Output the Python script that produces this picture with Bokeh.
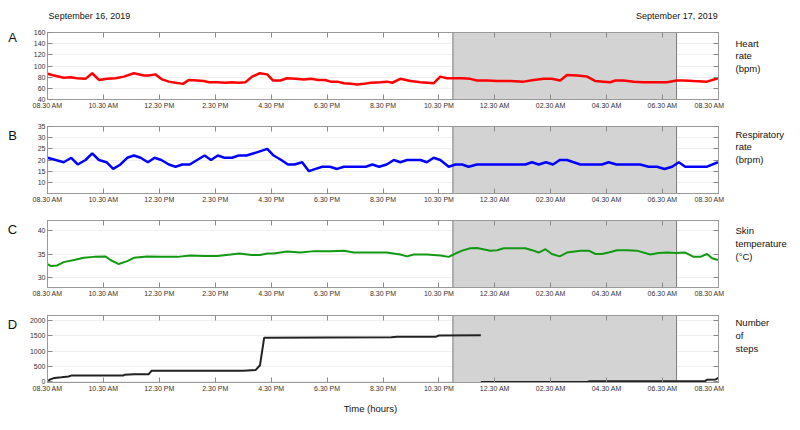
from bokeh.plotting import figure
from bokeh.models import Range1d, LinearAxis, FixedTicker, BoxAnnotation, Span
from bokeh.layouts import column, row
from bokeh.core.properties import value
from bokeh.embed import file_html
from bokeh.resources import INLINE

FONT = "Liberation Sans"

# ---- axis / annotation text ----
xtick_hours = [0, 2, 4, 6, 8, 10, 12, 14, 16, 18, 20, 22, 24]
xtick_labels = ["08.30 AM", "10.30 AM", "12.30 PM", "2.30 PM", "4.30 PM", "6.30 PM",
                "8.30 PM", "10.30 PM", "12.30 AM", "02.30 AM", "04.30 AM", "06.30 AM", "08.30 AM"]
night_start_h = 14.5   # 11:00 PM (hours after 08:30 AM)
night_end_h = 22.5     # 07:00 AM
date_texts = ["September 16, 2019", "September 17, 2019"]
time_axis_title = "Time (hours)"
panel_letters = ["A", "B", "C", "D"]
side_labels = ["Heart\nrate\n(bpm)", "Respiratory\nrate\n(brpm)",
               "Skin\ntemperature\n(\u00b0C)", "Number\nof\nsteps"]

# ---- A: heart rate (bpm) ----
hr_h = [0.0, 0.23, 0.58, 0.82, 1.06, 1.36, 1.6, 1.84, 2.13, 2.43, 2.73, 3.09, 3.45, 3.62, 3.86,
        4.1, 4.34, 4.58, 4.85, 5.05, 5.35, 5.59, 5.77, 6.07, 6.37, 6.6, 6.84, 7.08, 7.32, 7.59,
        7.86, 8.07, 8.33, 8.57, 8.87, 9.17, 9.41, 9.7, 9.94, 10.12, 10.36, 10.6, 10.84, 11.08,
        11.31, 11.55, 11.91, 12.15, 12.33, 12.62, 12.98, 13.34, 13.81, 14.05, 14.29, 14.49,
        14.83, 15.12, 15.36, 15.72, 16.08, 16.55, 17.03, 17.39, 17.75, 18.04, 18.34, 18.58,
        18.94, 19.3, 19.6, 19.89, 20.13, 20.31, 20.61, 20.97, 21.32, 21.8, 22.16, 22.51,
        22.75, 23.11, 23.59, 23.98]
hr_v = [86, 83, 79, 80, 78, 77, 87, 75, 77, 78, 81, 87, 83, 83, 85,
        76, 72, 70, 68, 75, 74, 73, 71, 71, 70, 71, 70, 71, 81, 87,
        85, 74, 74, 78, 77, 76, 77, 75, 75, 72, 72, 69, 68, 67,
        68, 70, 71, 72, 70, 77, 73, 71, 69, 81, 78, 78,
        78, 77, 74, 74, 73, 73, 72, 75, 77, 77, 74, 84,
        83, 81, 73, 72, 71, 74, 74, 72, 71, 71, 71, 74,
        74, 73, 72, 78]

# ---- B: respiratory rate (brpm) ----
rr_h = [0.0, 0.29, 0.58, 0.85, 1.08, 1.36, 1.6, 1.84, 2.11, 2.35, 2.61, 2.85, 3.09, 3.33,
        3.59, 3.83, 4.07, 4.34, 4.58, 4.82, 5.09, 5.35, 5.62, 5.85, 6.09, 6.33, 6.6, 6.84,
        7.12, 7.38, 7.62, 7.86, 8.09, 8.36, 8.6, 8.83, 9.11, 9.35, 9.59, 9.83, 10.1, 10.36,
        10.6, 10.84, 11.1, 11.38, 11.62, 11.86, 12.13, 12.39, 12.62, 12.86, 13.34, 13.57,
        13.81, 14.05, 14.35, 14.59, 14.83, 15.06, 15.36, 15.72, 16.2, 16.67, 17.09, 17.33,
        17.57, 17.83, 18.08, 18.32, 18.58, 18.82, 19.06, 19.42, 19.83, 20.07, 20.35, 20.73,
        21.2, 21.5, 21.8, 22.07, 22.34, 22.58, 22.81, 23.11, 23.59, 23.98]
rr_v = [21, 20, 19, 21, 18, 20, 23, 20, 19, 16, 18, 21, 22, 21,
        19, 21, 20, 18, 17, 18, 18, 20, 22, 20, 22, 21, 21, 22,
        22, 23, 24, 25, 22, 20, 18, 18, 19, 15, 16, 17, 17, 16,
        17, 17, 17, 17, 18, 17, 18, 20, 19, 20, 20, 19,
        21, 20, 17, 18, 18, 17, 18, 18, 18, 18, 18, 19,
        18, 19, 18, 20, 20, 19, 18, 18, 18, 19, 18, 18,
        18, 17, 17, 16, 17, 19, 17, 17, 17, 19]

# ---- C: skin temperature (deg C) ----
st_h = [0.0, 0.11, 0.35, 0.58, 0.95, 1.3, 1.66, 2.07, 2.25, 2.55, 2.85, 3.09, 3.56, 4.05,
        4.64, 5.11, 5.59, 6.07, 6.56, 6.86, 7.3, 7.6, 7.86, 8.09, 8.57, 9.05, 9.53, 10.12,
        10.6, 10.96, 11.44, 11.86, 12.13, 12.62, 12.86, 13.1, 13.57, 14.05, 14.35, 14.59,
        14.83, 15.12, 15.36, 15.84, 16.08, 16.32, 16.67, 17.09, 17.33, 17.57, 17.81, 18.04,
        18.32, 18.58, 19.06, 19.36, 19.6, 19.83, 20.07, 20.37, 20.73, 21.08, 21.56, 21.86,
        22.16, 22.46, 22.81, 23.11, 23.35, 23.59, 23.77, 23.98]
st_v = [32.9, 32.5, 32.6, 33.3, 33.75, 34.2, 34.4, 34.5, 33.75, 32.9, 33.5, 34.2, 34.5, 34.4,
        34.4, 34.7, 34.6, 34.6, 34.9, 35.1, 34.8, 34.8, 35.1, 35.1, 35.5, 35.3, 35.6, 35.6,
        35.7, 35.3, 35.3, 35.3, 35.3, 34.9, 34.5, 34.9, 34.9, 34.7, 34.4, 35.1,
        35.7, 36.2, 36.25, 35.7, 35.8, 36.2, 36.2, 36.2, 35.8, 35.3, 36.0, 35.0,
        34.5, 35.3, 35.7, 35.7, 35.0, 35.0, 35.3, 35.8, 35.8, 35.7, 34.9, 35.2,
        35.3, 35.2, 35.3, 34.4, 34.4, 35.0, 34.1, 33.75]

# ---- D: number of steps (cumulative, resets at midnight) ----
steps1_h = [0.0, 0.1, 0.25, 0.5, 0.75, 0.85, 2.7, 2.75, 3.1, 3.62, 3.72, 7.0, 7.3, 7.45,
            7.6, 7.75, 12.3, 12.5, 13.9, 14.0, 15.5]
steps1_v = [20, 80, 130, 150, 175, 205, 205, 230, 250, 250, 360, 360, 380, 390,
            540, 1440, 1450, 1470, 1470, 1510, 1515]
steps2_h = [15.5, 19.3, 19.4, 23.5, 23.6, 23.9, 24.0]
steps2_v = [0, 0, 20, 20, 70, 80, 130]

FRAME = "#9a9a9a"
TICK = "#8a8a8a"
LABEL = "#333333"
INK = "#111111"

LEFT_W, PANEL_LB, FRAME_W, PANEL_RB, SIDE_W = 22, 25, 671, 6, 68
xr = Range1d(0, 24)


def blank_fig(width, height, x_range, y_range, top=0, bottom=0, left=0, right=0):
    f = figure(width=width, height=height, x_range=x_range, y_range=y_range,
               output_backend="svg", toolbar_location=None,
               x_axis_location=None, y_axis_location=None,
               min_border_left=left, min_border_right=right,
               min_border_top=top, min_border_bottom=bottom)
    f.outline_line_color = None
    f.grid.grid_line_color = None
    return f


def style_axis(ax, labels=True):
    ax.axis_line_color = FRAME
    ax.major_tick_line_color = TICK
    ax.major_tick_in = 5
    ax.major_tick_out = 0
    ax.minor_tick_line_color = None
    ax.major_label_standoff = 2 if labels else 0
    ax.major_label_text_font = FONT
    ax.major_label_text_font_size = "7px"
    ax.major_label_text_color = LABEL


def make_row(idx, yr, yticks, letter_y, side_y, top, bottom):
    h = top + 67 + bottom
    yrange = Range1d(*yr)
    p = figure(width=PANEL_LB + FRAME_W + PANEL_RB, height=h, x_range=xr, y_range=yrange,
               output_backend="svg", toolbar_location=None,
               min_border_left=PANEL_LB, min_border_right=PANEL_RB,
               min_border_top=top, min_border_bottom=bottom)
    p.outline_line_color = FRAME
    p.xgrid.grid_line_color = None
    p.ygrid.grid_line_color = "#efefef"
    p.ygrid.ticker = FixedTicker(ticks=yticks)
    p.xaxis.ticker = FixedTicker(ticks=xtick_hours)
    p.xaxis.major_label_overrides = {t: s for t, s in zip(xtick_hours, xtick_labels)}
    p.yaxis.ticker = FixedTicker(ticks=yticks)
    style_axis(p.xaxis[0])
    style_axis(p.yaxis[0])

    top_ax = LinearAxis(ticker=FixedTicker(ticks=xtick_hours),
                        major_label_overrides={t: "" for t in xtick_hours})
    right_ax = LinearAxis(ticker=FixedTicker(ticks=yticks),
                          major_label_overrides={t: "" for t in yticks})
    style_axis(top_ax, labels=False)
    style_axis(right_ax, labels=False)
    p.add_layout(top_ax, "above")
    p.add_layout(right_ax, "right")

    p.add_layout(BoxAnnotation(left=night_start_h, right=night_end_h,
                               fill_color="#d3d3d3", fill_alpha=1.0,
                               line_color=None, level="underlay"))
    for hh in (night_start_h, night_end_h):
        p.add_layout(Span(location=hh, dimension="height", line_color="#7a7a7a",
                          line_width=1, level="underlay"))

    lf = blank_fig(LEFT_W, h, Range1d(0, LEFT_W), yrange, top=top, bottom=bottom)
    lf.text(x=[12], y=[letter_y], text=[panel_letters[idx]], text_font=value(FONT),
            text_font_size=value("13px"), text_color=INK,
            text_align="center", text_baseline="middle")

    sf = blank_fig(SIDE_W, h, Range1d(0, SIDE_W), yrange, top=top, bottom=bottom)
    sf.text(x=[11], y=[side_y], text=[side_labels[idx]], text_font=value(FONT),
            text_font_size=value("9.5px"), text_color=INK, text_line_height=1.15,
            text_align="left", text_baseline="top")
    return p, row(lf, p, sf, spacing=0)


# top strip with the dates (shares the time axis with the panels)
top_strip = blank_fig(LEFT_W + PANEL_LB + FRAME_W + PANEL_RB + SIDE_W, 24, xr, Range1d(0, 24),
                      left=LEFT_W + PANEL_LB, right=PANEL_RB + SIDE_W)
top_strip.text(x=[0.04], y=[9], text=[date_texts[0]], text_font=value(FONT),
               text_font_size=value("9px"), text_color=INK,
               text_align="left", text_baseline="middle")
top_strip.text(x=[23.97], y=[9], text=[date_texts[1]], text_font=value(FONT),
               text_font_size=value("9px"), text_color=INK,
               text_align="right", text_baseline="middle")

pA, rowA = make_row(0, (40, 160), [40, 60, 80, 100, 120, 140, 160], 151, 151, 8, 17)
pA.line(hr_h, hr_v, line_color="#ff0000", line_width=2.5)

pB, rowB = make_row(1, (5, 35), [10, 15, 20, 25, 30, 35], 31.0, 34.1, 10, 17)
pB.line(rr_h, rr_v, line_color="#0000ff", line_width=2.5)

pC, rowC = make_row(2, (28, 42), [30, 35, 40], 40.2, 41.0, 10, 18)
pC.line(st_h, st_v, line_color="#119911", line_width=2)

pD, rowD = make_row(3, (-20, 2160), [0, 500, 1000, 1500, 2000], 1860, 2095, 10, 17)
pD.line(steps1_h, steps1_v, line_color="#222222", line_width=2)
pD.line(steps2_h, steps2_v, line_color="#222222", line_width=2)

bottom_strip = blank_fig(LEFT_W + PANEL_LB + FRAME_W + PANEL_RB + SIDE_W, 15, xr, Range1d(0, 15),
                         left=LEFT_W + PANEL_LB, right=PANEL_RB + SIDE_W)
bottom_strip.text(x=[11.55], y=[6], text=[time_axis_title], text_font=value(FONT),
                  text_font_size=value("9.5px"), text_color=INK,
                  text_align="center", text_baseline="middle")

layout = column(top_strip, rowA, rowB, rowC, rowD, bottom_strip, spacing=0)
open("out.html", "w").write(file_html(layout, INLINE))
